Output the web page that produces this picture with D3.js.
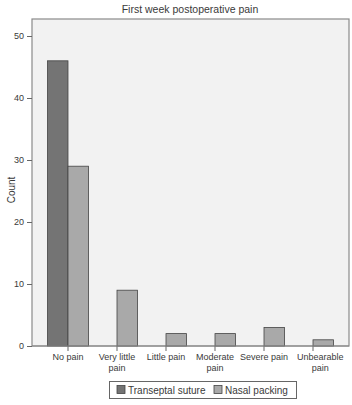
<!DOCTYPE html>
<html><head><meta charset="utf-8">
<script src="https://cdn.jsdelivr.net/npm/d3@7"></script>
<style>body{margin:0;background:#fff}svg{display:block;font-family:"Liberation Sans",Arial,sans-serif}</style>
</head><body>
<script>
const categories = [["No pain"],["Very little","pain"],["Little pain"],["Moderate","pain"],["Severe pain"],["Unbearable","pain"]];
const seriesNames = ["Transeptal suture","Nasal packing"];
const transeptal = [46,0,0,0,0,0];
const nasal = [29,9,2,2,3,1];
const yTicks = [0,10,20,30,40,50];
const colors = ["#747474","#a9a9a9"];

(function(){
const W=352,H=405;
const svg=d3.select("body").append("svg").attr("width",W).attr("height",H);
const pL=32,pR=349,pT=19,pB=346;
svg.append("rect").attr("x",pL).attr("y",pT).attr("width",pR-pL).attr("height",pB-pT).attr("fill","#f2f2f2").attr("stroke","#8a8a8a").attr("stroke-width",1.2);

const y=d3.scaleLinear().domain([0,50]).range([pB,36]);
const x=d3.scaleBand().domain(d3.range(categories.length)).range([43.5,337.5]).padding(0);
const bw=20.5;

const series=[transeptal,nasal];
series.forEach((vals,si)=>{
  svg.append("g").selectAll("rect").data(vals.map((v,i)=>({v,i})).filter(d=>d.v>0)).join("rect")
    .attr("x",d=>x(d.i)+x.bandwidth()/2+(si===0?-bw:0))
    .attr("y",d=>y(d.v)).attr("width",bw).attr("height",d=>pB-y(d.v))
    .attr("fill",colors[si]).attr("stroke","#444").attr("stroke-width",0.8);
});

const ya=svg.append("g").attr("transform",`translate(${pL},0)`).call(d3.axisLeft(y).tickValues(yTicks).tickSize(5).tickPadding(3));
ya.select(".domain").remove();
ya.selectAll("line").attr("stroke","#666");
ya.selectAll("text").attr("font-size",9).attr("fill","#3a3a3a").attr("font-family","Liberation Sans, Arial, sans-serif");

const xa=svg.append("g").attr("transform",`translate(0,${pB})`).call(d3.axisBottom(x).tickSize(5).tickFormat(""));
xa.select(".domain").remove();
xa.selectAll("line").attr("stroke","#666");
xa.selectAll(".tick").each(function(d){
  const t=d3.select(this).append("text").attr("fill","#3a3a3a").attr("font-size",9).attr("text-anchor","middle").attr("font-family","Liberation Sans, Arial, sans-serif");
  categories[d].forEach((s,k)=>t.append("tspan").attr("x",0).attr("y",13.5+k*11.5).text(s));
  // last label is pushed against the right edge of the frame
  if(d===categories.length-1){
    const bb=t.node().getBBox(), cx=x(d)+x.bandwidth()/2;
    const shift=(pR-5.5)-(cx+bb.x+bb.width);
    t.attr("transform",`translate(${shift},0)`);
  }
});
svg.append("line").attr("x1",pL).attr("x2",pR).attr("y1",pB).attr("y2",pB).attr("stroke","#8a8a8a").attr("stroke-width",1.2);

svg.append("text").attr("x",190).attr("y",13).attr("text-anchor","middle").attr("font-size",10.5).attr("fill","#3a3a3a").text("First week postoperative pain");
svg.append("text").attr("transform","translate(15,190) rotate(-90)").attr("text-anchor","middle").attr("font-size",10).attr("fill","#3a3a3a").text("Count");

const lg=svg.append("g");
lg.append("rect").attr("x",109.5).attr("y",381.5).attr("width",187).attr("height",17).attr("fill","#fff").attr("stroke","#666");
const lx=[117,214];
seriesNames.forEach((n,i)=>{
  lg.append("rect").attr("x",lx[i]).attr("y",385.5).attr("width",8).attr("height",8).attr("fill",colors[i]).attr("stroke","#444").attr("stroke-width",0.8);
  lg.append("text").attr("x",lx[i]+11).attr("y",393.5).attr("font-size",10).attr("fill","#3a3a3a").text(n);
});
})();
</script>
</body></html>
